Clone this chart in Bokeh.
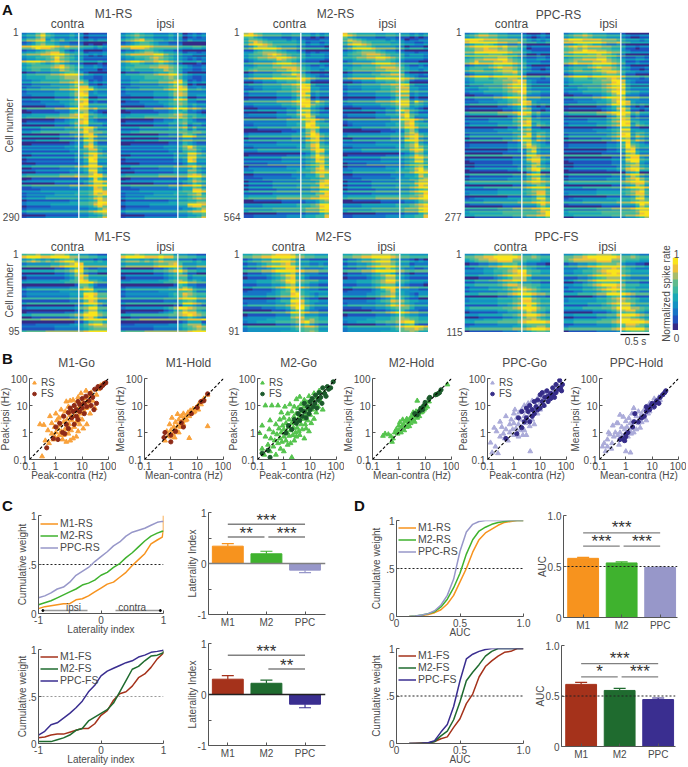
from bokeh.plotting import figure
from bokeh.embed import file_html
from bokeh.resources import INLINE
from bokeh.core.properties import value
from bokeh.layouts import column
from bokeh.models import Range1d, LinearColorMapper, Span, FixedTicker, Legend, LegendItem
import numpy as np
import math

FONT = "Liberation Sans"
TXT = "#4a4a4a"
PAL = ["#352A87","#1F52BE","#1675C6","#1392C2","#19A8B6","#3DB8A0","#5FBB8E","#A8BD6C","#EDC23C","#F9E41C"]

# ---------- heat maps, one string per row of cells, 0 (low) to 9 (high) ----------
m1rs_contra = """344685433343312222
466783545344323233
345786654433312112
556877654544322121
344567886434412223
455566787543321212
233445686543311111
678765676544322232
345555678654422321
456655668765333312
233444556787532111
455556667888533223
223344445567641212
334444555568773323
122233334456886322
233333344457983433
112222233346982233
222233334456892322
111112222345984444
233333344466994533
223333334467895432
344445556677984544
011111122345894322
122222233346784443
222233333445698533
334455555566797665
111111112234489533
111222223334479544
001111111123368422
222222222334379644
333333333344568854
112222222223358954
011111111112249833
222333333333459944
223333334445569964
111222222233348943
344444445556557985
012222222222335964
222222233333346997
223333333344445986
111122222222334886
233333344445556989
344445555555556897
122222222233445698
011111222222334686
344444444444445579
233333333333445678
122223333333445568""".split()
m1rs_ipsi = """345654433343412323
456785544343313222
345677654433301111
557776544444322332
344567765443312212
456666677543322111
233445676543321212
567765567654322231
344555667765432112
456555566876533223
233344456687532111
445556666787643223
223344445567841212
334444445568862322
122233333456872232
233333344457873333
112222233346762233
122233334456763322
111112222345653433
233333344456674543
223333334456764432
344445555566764544
011111122334564322
122222233344563443
222233333344563533
334455555555665665
111111112233476533
111222223333455444
001111111122354322
222222222333469644
333333333344467754
112222222223448854
011111111112238733
222233333333346644
223333334445556854
111222222223336643
344444445555557875
012222222222335764
222222233333345765
223333333344455764
111122222222344886
233333344445556785
344445555555556787
122222222233445566
011111222222337886
344444444444455679
233333333333445667
122223333333445568""".split()
m2rs_contra = """786544443344332323
577654444343322233
468765444443312212
346887654443322221
335677765443312122
345567876544423332
234556687654322221
345555678765433322
334555667776432232
456555566787543323
234444556687532212
345555666778754322
223344455667862111
233344445567983222
112233334456883322
233333344456973433
122222233346982322
333333344457994643
112222223345895432
222333333446885432
011111122335784322
222222233345797333
333333333444689543
112222222334598544
222333333344589744
011111112223479633
233333333344469854
122222222233358943
333333344444468954
112222222223357954
222333333333446984
011111111222346975
222222223333345985
333334444444456896
122222222333345795
223333333334445787
112222222233344686
333344444445556678
122222333333444589
011111222223334487
233333344444445578
222222333333444679
344444455555556688
112222223333344578
222233333334445689
333333444444455579
122222233333344468
112222222333344558""".split()
m2rs_ipsi = """865444433443332323
687654444343312233
467765444433322112
346776544443312221
345677765443322122
345567776544423332
334556677654322221
345555677765433322
334455567776532232
345555566777543323
234444556677632212
345555566777754322
223344455667762111
233344445566873222
122233334456773322
233333344456773433
122222233346772322
233333344457883643
112222223345773432
222233333446875432
011111122334684322
122222233344796333
233333333344689543
012222222334578544
222233333344579644
111111112223368633
233333333344467854
112222222233368943
333333344444467954
112222222223356864
222233333333446874
011111111222345875
222222223333345885
233334444444456786
122222222333345785
223333333334445797
112222222233344586
333344444445556689
122222333333444688
011111222223334587
233333344444445678
222222333333445679
344444455555556679
112222223333344578
222233333334445678
333333444444455579
122222233333344468
112222222333344558""".split()
pprs_contra = """456776655444321232
788766655554421212
567787655445322112
678898878665412222
557788877655321111
667778887665422321
456677788654322332
568666778765422211
345556787765531112
566655678875432212
345555667786422222
456665677887533323
234444556678732111
233344445677832222
333445556788943333
122233334567843322
223333445678844433
111222233456873222
233333344567864343
011111112234762212
344444455568874533
122222222346773433
222223333356784433
122222233345783543
111111222335673322
333333344455674554
122222222234683543
233333334456884654
011111111223685432
122222222334687544
111111111223368433
222222223333478544
011111111122368843
223333333344568954
112222222223358754
011111111223468944
233333333344468854
122222222333357854
344444444444567765
111122222233456875
222222233333456775
233333344444456885
012222222333445885
333344444445556786
122222223333444686
222222233344445587
344444445555555679
223333333344455668""".split()
pprs_ipsi = """456676555444321122
677766665554322212
556787665445321111
678787776655422122
567798877655321111
667778898765422221
456677788654322332
567666778765411211
345556787765431112
456655678876432212
345555667887533222
456665677898533323
234444556689732111
233344445689832222
333445556789843333
122233334579943322
223333445689844433
111222233468973222
233333344579964343
011111112347962212
344444455679974533
122222222458983433
222223333467984433
122222233456983543
111111222345883322
333333344456884554
122222222345893543
233333334456894654
011111111223595432
122222222334597544
111111111223489433
222222223333489644
011111111122379943
223333333344578954
112222222223468854
011111111223378944
233333333344469854
122222222333367964
344444444444567885
111122222233456985
222222233333456785
233333344444456885
012222222333445895
333344444445556787
122222223333444697
222222233344445688
344444445555555689
223333333344455679""".split()
m1fs_contra = """677866788755443322
567656567886444343
233333445679844444
111111122357932233
222222233458943322
122222222346974444
233333334456985543
111111111223886433
233333333344687333
344444445555678644
122222222233489755
222222222233479844
233333333334578954
122222222223569855
011111111223479965
112222222234489743
444455555555577887
000111111123357886
222222233333456777
233334444444457899""".split()
m1fs_ipsi = """677876667664443322
566656567666444343
344444456678533344
111111122356632233
222222233456753322
122222222345663444
223333334456764543
111111111223764433
233333333344686433
344444445555778644
122222222234576544
222222222333567644
233333333334477654
122222222346897655
011111112346798865
112222222233456543
344455555555556667
000111111122346663
222222233333456787
233334444444445799""".split()
m2fs_contra = """445566788875544333
345566889975443333
233456778975443343
111223456884322223
233344567895544433
122223456895532222
111222345785544422
333444556896654433
112222345695543322
011111234586433333
222223345589543233
111112234489743322
233333344589854333
111122233479953222
222222333468854433
122222233367744433
333334444456767544
011222233345675433
344444444456677644
233333334444567644""".split()
m2fs_ipsi = """445566777765443333
344566789965443232
233445678875442333
111223455754322112
233344567764432333
122223456885432222
111222345895432222
333444567885543332
112222346895443322
011111233574322222
222223345674432133
111112234576643322
233333344576654333
111122233456664222
222222333456754433
122222233345654433
333334444456776544
011222233445678433
344444444456788987
233333334444667644""".split()
ppfs_contra = """445566788876445433
345667788866544433
233445567786544332
223344566787654333
222233445678854433
111222345688853333
223334456688644433
334444456776554433
122223334567765433
233333344567876544
111222233456775443
233333344456886544
222222233456797544
344444445567898654
233333344556798654
111222223345688654
222233334445667654
112222233334566665
344444444455567886
233333334445567887""".split()
ppfs_ipsi = """445567788876445433
567777788866544433
344556678889544332
333445678898654333
223344567898543333
222334567888543333
123445678887544433
223345678887644433
122233456787544333
223344456787654433
111222344678654333
233333344567765433
222223334567885444
333344445568886654
222222333457788654
112222233446887654
223333334456897764
112222233345688765
344444444456688775
233333344445678887""".split()
# row-by-row brightness of the cells (4 = unchanged), shared by contra and ipsi of one group
m1rs_rows = "353462375246354624534263346254734526345372254634526345372634534263745246253463452734635243564236324"
m2rs_rows = "462354637245364263546253742635463524736425364273546235463724536424635273546342536472635463254637244"
pprs_rows = "253647253462735462536427354625364273546153642735462536472635463527364253640625364273546253642735462"
m1fs_rows = "3625473625347236254736152473625437"
m2fs_rows = "4625364725364273546253642735462534"
ppfs_rows = "3654263547362546372546354263574362"
colorbar_levels = [0,1,2,3,4,5,6,7,8,9]

# ---------- scatter data, (contra, ipsi) in Hz ----------
m1go_rs = [(.3,.13),(.25,2),(.35,1.9),(.4,.5),(.5,1.2),(.55,.4),(.6,4),(.7,.9),(.7,2.2),(.8,.55),(.9,1.6),(.9,.7),(1,5),(1,1),(1.1,2.8),(1.2,.6),(1.2,1.4),(1.3,3.5),(1.4,.8),(1.5,1.9),(1.6,7),(1.6,1.1),(1.8,4),(1.8,.55),(2,.8),(2,2.5),(2.2,1.3),(2.3,6),(2.5,.45),(2.5,14),(2.7,3),(2.8,1.6),(3,9),(3,.9),(3.2,2),(3.5,15),(3.5,4.5),(3.5,.5),(3.8,1.2),(4,7),(4,2.8),(4.5,16),(4.5,.6),(5,10),(5,4),(5,1.6),(6,6),(6,.7),(6,2.5),(6.5,14),(7,20),(7,4),(7,1.1),(8,9),(8,2),(9,5),(9,28),(10,12),(10,3),(11,1.4),(12,18),(12,6),(14,35),(14,8),(15,13),(15,2),(18,22),(18,9),(20,5),(22,30),(25,15),(30,8),(35,25),(40,40),(50,55),(60,60)]
m1go_fs = [(.45,.27),(.8,.6),(1,1.6),(1.2,.55),(1.4,2.2),(1.8,1),(2,4),(2.2,.9),(2.5,2),(3,5.5),(3,1.4),(3.5,8),(4,3.5),(4.5,6),(5,2),(5,10),(6,4),(6,7),(7,14),(7,3),(8,6),(8,11),(10,8),(10,18),(12,5),(12,12),(14,22),(15,9),(18,15),(20,28),(22,10),(25,20),(28,7),(30,40),(35,12),(40,50),(50,45),(60,55),(70,65),(80,70)]
m1h_rs = [(.6,.5),(.7,1.1),(.8,.75),(.9,2),(1,.7),(1,1.2),(1.1,3.5),(1.2,.9),(1.3,1.6),(1.4,.65),(1.5,2.4),(1.6,1.2),(1.8,4.8),(1.8,1.7),(2,1),(2,3),(2.2,2),(2.4,1.6),(2.5,4),(2.8,2.6),(3,2),(3,5),(3.2,3.4),(3.5,2.8),(4,4.2),(4,3),(4.5,5.5),(5,4),(5,.62),(5.5,6.5),(6,5),(7,7.5),(7,5.5),(8,6),(9,8),(10,9),(11,7),(12,12),(14,11),(15,14),(18,18),(25,1.7),(25,25)]
m1h_fs = [(.55,.65),(.6,1),(1,.45),(1,.8),(1.5,1.1),(2.5,2.3),(3,1.6),(6,5),(10,8.5),(14,14),(18,15),(25,27)]
m2go_rs = [(.12,.95),(.15,.25),(.15,1.8),(.18,.15),(.2,10),(.2,.7),(.25,.35),(.28,1.3),(.3,.2),(.3,2.8),(.32,.6),(.35,10),(.4,.3),(.4,1),(.45,.5),(.5,2),(.5,.15),(.55,.85),(.6,10),(.6,.4),(.65,1.4),(.7,.6),(.7,3),(.75,.25),(.8,1),(.8,5.5),(.85,.45),(.9,1.8),(1,.7),(1,3.5),(1,.2),(1,1.3),(1.1,9),(1.2,.5),(1.2,2.2),(1.3,1),(1.4,5),(1.4,.35),(1.5,1.6),(1.6,.75),(1.6,3),(1.7,11),(1.8,1.2),(1.8,.4),(2,2.2),(2,6),(2,.12),(2.2,.8),(2.3,1.5),(2.4,3.8),(2.5,.5),(2.5,9),(2.7,2.2),(2.8,1),(3,5),(3,.7),(3,17),(3.2,1.5),(3.5,2.7),(3.5,8),(3.7,1.1),(4,4),(4,21),(4,.8),(4.5,2),(4.5,11),(5,6),(5,1.3),(5.5,3.2),(6,9),(6,.6),(6,16),(6.5,2),(7,4.5),(7,1.4),(7.5,13),(8,7),(8,2.8),(9,22),(9,1.1),(10,10),(10,4.5),(11,2.2),(12,16),(12,7),(14,28),(14,3.2),(15,11),(17,5.5),(18,20),(20,9),(22,35),(25,14),(30,7),(35,30)]
m2go_fs = [(.15,.17),(.25,.22),(.3,.12),(1.2,.95),(1.5,1.8),(2,1.3),(2.5,3),(3,2.2),(3.5,5),(4,2.8),(4.5,7),(5,4),(6,6),(6,12),(7,3.5),(8,9),(9,5),(10,14),(10,7),(12,18),(13,9),(15,12),(16,24),(18,8),(20,16),(22,30),(25,20),(28,12),(30,45),(35,28),(40,22),(45,50),(50,40),(60,45),(75,75)]
m2h_rs = [(.25,.75),(.3,.9),(.4,.85),(.5,.72),(.55,.45),(.6,.6),(.7,1),(.8,1.3),(.9,.9),(1,1.2),(1,1.8),(1.1,2.4),(1.2,1),(1.3,1.6),(1.4,3),(1.5,2),(1.6,1.2),(1.8,2.6),(2,1.6),(2,3.2),(2.2,2.2),(2.5,3),(2.5,1.7),(2.8,2.2),(3,4),(3,2.8),(3.5,3),(3.5,5.5),(4,4),(4,2.5),(4.5,6),(5,3.5),(5,15),(5.5,5),(6,7),(6,4),(7,5.5),(8,9),(8,6),(9,7),(10,11),(10,8),(12,9),(14,14),(25,25),(70,60)]
m2h_fs = [(4,5),(5,4.5),(6,6),(7,8),(8,7),(9,10),(10,13),(14,18),(15,20),(25,25),(30,27),(35,30),(40,38)]
ppcgo_rs = [(.13,.42),(.15,.18),(.18,1.5),(.2,.3),(.22,1.1),(.25,.17),(.3,2.5),(.3,.7),(.35,1.6),(.4,.9),(.45,.6),(.5,1.3),(.5,4),(.6,.5),(.7,2),(.7,1),(.8,3),(.9,1.3),(1,.8),(1,5),(1,2.2),(1.1,7),(1.2,1.4),(1.3,3.5),(1.5,.7),(1.5,2),(1.6,5.5),(1.7,1.2),(1.8,3),(2,7),(2,1.6),(2.2,.8),(2.5,4),(2.5,1.2),(2.5,10),(2.8,2.2),(3,6),(3,.8),(3.5,3),(3.5,12),(4,4.5),(4,1.7),(4.2,.2),(4.5,8),(5,3),(5,15),(6,6),(6,2),(7,10),(8,5),(8,18),(10,12),(10,7),(12,20),(14,10),(15,30),(18,16),(20,25),(25,20),(30,35),(40,40),(50,50)]
ppcgo_fs = [(.5,.6),(1.3,.9),(1.5,3.5),(2,1.5),(2,6),(2.5,2.5),(3,3.5),(3,8),(3.5,6),(4,2.5),(4,10),(5,7),(5,4),(6,5),(6,14),(7,9),(8,7),(8,16),(10,8),(10,25),(12,14),(12,30),(14,10),(15,20),(18,35),(20,14),(20,22),(25,28),(25,18),(30,45),(30,25),(35,20),(40,30),(40,60),(50,40),(55,85),(60,45),(65,35),(70,60)]
ppch_rs = [(.13,.3),(.15,.4),(.17,.2),(.2,.55),(.2,.3),(.22,1),(.25,.85),(.28,.25),(.3,.4),(.32,1.8),(.35,.7),(.4,1),(.45,2.2),(.5,.8),(.5,2.2),(.55,.35),(.6,1),(.6,4.5),(.7,.7),(.7,1.6),(.8,3.8),(.9,.5),(.9,1.3),(1,.2),(1,.9),(1,2.6),(1.1,1.6),(1.2,.7),(1.3,3.4),(1.4,1.2),(1.5,.18),(1.5,2.2),(1.6,.9),(1.7,5),(1.8,1.5),(2,8),(2,1),(2.2,2.5),(2.5,4),(2.5,1.3),(3,2.2),(3,6),(3.5,1.5),(3.5,3.5),(4,5),(4,2.4),(5,7),(5,3.5),(6,2.8),(6,9),(7,5),(8,12),(8,6),(10,8),(12,18),(12,10),(15,12),(18,20),(20,16),(25,25)]
ppch_fs = [(.6,.55),(.7,.6),(.9,.5),(1,.7),(1,.85),(1.2,1),(1.8,1.6),(2,2.5),(2.2,5),(3,2.5),(4,3.5),(5,4),(6,6),(6,9),(7,8),(8,7),(9,10),(10,12),(12,9),(14,13),(15,15),(18,12),(20,20),(25,25),(30,30),(33,35)]

# ---------- cumulative curves ----------
li_x = [-1,-.9,-.8,-.7,-.6,-.5,-.4,-.3,-.2,-.1,0,.1,.2,.3,.4,.5,.6,.7,.8,.9,.98,1,1]
m1rs_li = [.05,.07,.08,.09,.10,.10,.14,.15,.18,.22,.26,.30,.32,.37,.42,.49,.55,.61,.71,.75,.78,.85,1]
m2rs_li = [.09,.11,.13,.16,.19,.22,.25,.29,.31,.34,.39,.42,.47,.51,.57,.62,.68,.74,.79,.82,.84,.84,.84]
pprs_li = [.16,.18,.21,.25,.27,.32,.39,.43,.47,.53,.58,.63,.69,.73,.79,.83,.85,.87,.90,.93,.94,.94,.94]
m1fs_li = [.06,.07,.09,.10,.10,.12,.14,.16,.16,.21,.30,.35,.46,.53,.55,.61,.70,.74,.81,.90,.95,.96,.98]
m2fs_li = [.02,.02,.02,.04,.06,.09,.14,.16,.24,.28,.32,.36,.43,.55,.67,.79,.82,.88,.93,.94,.96,.97,.99]
ppfs_li = [.09,.13,.20,.22,.27,.32,.38,.45,.55,.62,.72,.77,.80,.83,.86,.88,.92,.94,.97,.98,.99,1,1]
auc_x = [.1,.15,.2,.25,.3,.35,.4,.45,.5,.55,.6,.65,.7,.75,.8,.85,.9,.95,1]
m1rs_auc = [0,.002,.01,.02,.04,.07,.13,.22,.36,.50,.67,.80,.87,.91,.95,.98,.99,1,1]
m2rs_auc = [0,.005,.015,.03,.05,.10,.18,.30,.45,.65,.80,.89,.93,.96,.98,.99,1,1,1]
pprs_auc = [0,.005,.015,.03,.06,.12,.22,.39,.68,.88,.96,.99,1,1,1,1,1,1,1]
m1fs_auc = [0,.002,.004,.005,.02,.05,.07,.17,.26,.42,.52,.70,.81,.87,.92,.96,.97,1,1]
m2fs_auc = [0,0,.003,.005,.02,.08,.13,.25,.44,.66,.75,.83,.92,.97,1,1,1,1,1]
ppfs_auc = [0,0,.003,.008,.03,.12,.20,.39,.66,.89,.94,.97,.99,1,1,1,1,1,1]

# ---------- bars ----------
regions = ["M1","M2","PPC"]
li_rs = [.34,.19,-.13]; li_rs_err = [.05,.05,.05]
li_fs = [.30,.22,-.19]; li_fs_err = [.07,.06,.07]
auc_rs = [.58,.535,.49]; auc_rs_err = [.01,.01,.005]
auc_fs = [.615,.555,.465]; auc_fs_err = [.02,.02,.015]
RS_COL = ["#F7931E","#3FB22E","#9797C9"]
FS_COL = ["#A5321B","#1F6B2F","#3A2E90"]

figs = []

def place(p, x, y):
    p.styles = {"position": "absolute", "left": f"{x}px", "top": f"{y}px"}
    figs.append(p)

def base(w, h, xr, yr, **kw):
    p = figure(width=w, height=h, x_range=xr, y_range=yr, toolbar_location=None, output_backend="svg", frame_align=False, **kw)
    p.outline_line_color = None
    p.background_fill_color = None
    p.border_fill_color = None
    p.xgrid.visible = False
    p.ygrid.visible = False
    return p

def heat(rows, brightness, x, y, h):
    n = len(brightness)
    coarse = [[int(c) for c in r[:18].ljust(18, "3")] for r in rows]
    arr = np.array([[float(min(9, max(0, v + int(b) - 4))) for v in coarse[i*len(rows)//n]] for i, b in enumerate(brightness)])[::-1]
    p = base(86, h, Range1d(-1, .5), Range1d(0, n), x_axis_location=None, y_axis_location=None, min_border=0)
    p.image(image=[arr], x=-1, y=0, dw=1.5, dh=n, color_mapper=LinearColorMapper(palette=PAL, low=-.5, high=9.5))
    p.add_layout(Span(location=0, dimension="height", line_color="white", line_width=1.3))
    place(p, x, y)

for rows, br, x in [(m1rs_contra,m1rs_rows,21),(m1rs_ipsi,m1rs_rows,120),(m2rs_contra,m2rs_rows,243),(m2rs_ipsi,m2rs_rows,342),(pprs_contra,pprs_rows,464),(pprs_ipsi,pprs_rows,563)]:
    heat(rows, br, x, 32, 186)
for rows, br, x in [(m1fs_contra,m1fs_rows,21),(m1fs_ipsi,m1fs_rows,120),(m2fs_contra,m2fs_rows,242),(m2fs_ipsi,m2fs_rows,342),(ppfs_contra,ppfs_rows,464),(ppfs_ipsi,ppfs_rows,563)]:
    heat(rows, br, x, 253, 79)

# colour bar
cb = base(6, 73, Range1d(0, 1), Range1d(-.5, 9.5), x_axis_location=None, y_axis_location=None, min_border=0)
cb.image(image=[np.array(colorbar_levels, dtype=float).reshape(10, 1)], x=0, y=-.5, dw=1, dh=10,
         color_mapper=LinearColorMapper(palette=PAL, low=-.5, high=9.5))
place(cb, 672, 257)

L, R, T, B = 42, 8, 16, 36

def style_axis(ax, size="10px"):
    ax.axis_line_color = "#555555"
    ax.major_tick_line_color = "#555555"
    ax.major_tick_in = 3
    ax.major_tick_out = 0
    ax.minor_tick_line_color = None
    ax.major_label_text_font = FONT
    ax.major_label_text_font_size = size
    ax.major_label_text_color = TXT
    ax.major_label_standoff = 2
    ax.axis_label_text_font = FONT
    ax.axis_label_text_font_size = size
    ax.axis_label_text_font_style = "normal"
    ax.axis_label_text_color = TXT
    ax.axis_label_standoff = -3

LOGT = [.1, 1, 10, 100]
LOGL = {.1: "0.1", 1: "1", 10: "10", 100: "100"}

def scatter_panel(x, y, rs, fs, rs_c, fs_c, xl, yl, legend):
    p = base(L+79+R, T+81+B, Range1d(.1, 100), Range1d(.1, 100), x_axis_type="log", y_axis_type="log",
             min_border_left=L, min_border_right=R, min_border_top=T, min_border_bottom=B)
    for ax in (p.xaxis[0], p.yaxis[0]):
        style_axis(ax)
        ax.ticker = FixedTicker(ticks=LOGT)
        ax.major_label_overrides = LOGL
    p.xaxis[0].axis_label = xl
    p.yaxis[0].axis_label = yl
    r1 = p.scatter([a for a, b in rs], [b for a, b in rs], marker="triangle", size=4.8, fill_color=rs_c, line_color=rs_c)
    r2 = p.scatter([a for a, b in fs], [b for a, b in fs], marker="circle", size=4.2, fill_color=fs_c, line_color=fs_c)
    p.line(LOGT, LOGT, line_color="black", line_dash="3 2", line_width=1.1)
    if legend:
        lg = Legend(items=[LegendItem(label="RS", renderers=[r1]), LegendItem(label="FS", renderers=[r2])],
                    location=(0, 60), background_fill_alpha=0, border_line_color=None, padding=0, margin=0,
                    spacing=0, glyph_width=10, glyph_height=9, label_height=9, label_standoff=2,
                    label_text_line_height=0.85,
                    label_text_font=FONT, label_text_font_size="10px", label_text_color=TXT)
        p.add_layout(lg, "center")
    place(p, x-L, y-T)

PK, MN = ("Peak-contra (Hz)", "Peak-ipsi (Hz)"), ("Mean-contra (Hz)", "Mean-ipsi (Hz)")
scatter_panel(29, 378, m1go_rs, m1go_fs, "#F9A23C", "#8E2A17", *PK, True)
scatter_panel(144, 378, m1h_rs, m1h_fs, "#F9A23C", "#8E2A17", *MN, False)
scatter_panel(257, 378, m2go_rs, m2go_fs, "#55C44E", "#1B5A2B", *PK, True)
scatter_panel(372, 378, m2h_rs, m2h_fs, "#55C44E", "#1B5A2B", *MN, False)
scatter_panel(487, 378, ppcgo_rs, ppcgo_fs, "#ABABD9", "#352C88", *PK, True)
scatter_panel(599, 378, ppch_rs, ppch_fs, "#ABABD9", "#352C88", *MN, False)

def curve_panel(x, ytop, w, h, xs, curves, names, cols, xr, xticks, xlabels, xlab, dash_col, legend_y, extra=False, ylab_standoff=-3):
    p = base(L+w+R, T+h+B, Range1d(*xr), Range1d(0, 1), min_border_left=L, min_border_right=R, min_border_top=T, min_border_bottom=B)
    for ax in (p.xaxis[0], p.yaxis[0]):
        style_axis(ax)
    p.yaxis[0].axis_label_standoff = ylab_standoff
    p.xaxis[0].ticker = FixedTicker(ticks=xticks)
    p.xaxis[0].major_label_overrides = dict(zip(xticks, xlabels))
    p.yaxis[0].ticker = FixedTicker(ticks=[0, .5, 1])
    p.yaxis[0].major_label_overrides = {0: "0", .5: ".5", 1: "1"}
    p.xaxis[0].axis_label = xlab
    p.yaxis[0].axis_label = "Cumulative weight"
    p.line(list(xr), [.5, .5], line_color=dash_col, line_dash="2 2", line_width=1)
    items = []
    for c, n, col in zip(curves, names, cols):
        r = p.line(xs, c, line_color=col, line_width=1.5)
        items.append(LegendItem(label=n, renderers=[r]))
    if extra:
        p.segment([-.92, .232], [.03, .03], [-.216, .95], [.03, .03], line_color="#999999", line_width=1.5)
        p.scatter([-.93, .95], [.03, .03], marker="circle", size=2, color="black")
        p.text([-.44, .5], [.065, .065], text=["ipsi", "contra"], text_font=value(FONT), text_font_size="10px",
               text_color=TXT, text_align="center", text_baseline="middle")
    lg = Legend(items=items[::1], location=(2, legend_y), background_fill_alpha=0, border_line_color=None, padding=0, margin=0,
                spacing=0, glyph_width=18, glyph_height=9, label_height=9, label_standoff=2,
                label_text_line_height=0.9,
                label_text_font=FONT, label_text_font_size="10.5px", label_text_color=TXT)
    p.add_layout(lg, "center")
    place(p, x-L, ytop-T)

NR, NF = ["M1-RS","M2-RS","PPC-RS"], ["M1-FS","M2-FS","PPC-FS"]
curve_panel(38, 515, 125, 98, li_x, [m1rs_li,m2rs_li,pprs_li], NR, RS_COL, (-1,1), [-1,0,1], ["-1","0","1"], "Laterality index", "#222222", 60, True)
curve_panel(38, 649, 125, 94, li_x, [m1fs_li,m2fs_li,ppfs_li], NF, FS_COL, (-1,1), [-1,0,1], ["-1","0","1"], "Laterality index", "#999999", 57)
curve_panel(396, 520, 127, 96, auc_x, [m1rs_auc,m2rs_auc,pprs_auc], NR, RS_COL, (0,1), [0,.5,1], ["0","0.5","1.0"], "AUC", "#222222", 59, False, 1)
curve_panel(396, 648, 127, 95, auc_x, [m1fs_auc,m2fs_auc,ppfs_auc], NF, FS_COL, (0,1), [0,.5,1], ["0","0.5","1.0"], "AUC", "#222222", 58, False, 1)

def bar_panel(x, ytop, w, h, vals, errs, cols, yr, yticks, ylabels, ylab, xr, sig, zero=None, half=False):
    p = base(L+w+R, T+h+B, Range1d(*xr), Range1d(*yr), min_border_left=L, min_border_right=R, min_border_top=T, min_border_bottom=B)
    for ax in (p.xaxis[0], p.yaxis[0]):
        style_axis(ax)
    p.xaxis[0].ticker = FixedTicker(ticks=[1, 2, 3])
    p.xaxis[0].major_label_overrides = dict(zip([1, 2, 3], regions))
    p.yaxis[0].ticker = FixedTicker(ticks=yticks)
    p.yaxis[0].major_label_overrides = dict(zip(yticks, ylabels))
    p.yaxis[0].axis_label = ylab
    xs = [1, 2, 3]
    ends = [v + (e if v >= 0 else -e) for v, e in zip(vals, errs)]
    p.segment(xs, vals, xs, ends, line_color=cols, line_width=1.2)
    p.scatter(xs, ends, marker="dash", size=12, line_color=cols, line_width=1.2)
    p.vbar(x=xs, top=vals, bottom=[yr[0] if yr[0] == 0 else 0]*3, width=.8, fill_color=cols, line_color=cols)
    if zero:
        p.add_layout(Span(location=0, dimension="width", line_color=zero, line_width=1.5))
    if half:
        p.line(list(xr), [.5, .5], line_color="#222222", line_dash="2 2", line_width=1)
    for x0, x1, yl, yt, s in sig:
        p.segment([x0], [yl], [x1], [yl], line_color="#808080", line_width=1.3)
        p.text([(x0+x1)/2], [yt], text=[s], text_font=value(FONT), text_font_size="17px", text_color="#333333",
               text_align="center", text_baseline="middle")
    place(p, x-L, ytop-T)

LT = [-1, -.5, 0, .5, 1]; LL = ["-1", "", "0", "", "1"]
bar_panel(208, 512, 117, 102, li_rs, li_rs_err, RS_COL, (-1,1), LT, LL, "Laterality Index", (.5,3.53),
          [(1,3,.77,.84,"***"),(1,1.95,.52,.59,"**"),(2.05,3,.52,.59,"***")], "#808080")
bar_panel(208, 643, 117, 102, li_fs, li_fs_err, FS_COL, (-1,1), LT, LL, "Laterality Index", (.5,3.53),
          [(1,3,.77,.84,"***"),(2.05,3,.5,.57,"**")], "#222222")
bar_panel(563, 515, 114, 102, auc_rs, auc_rs_err, RS_COL, (0,1), [0,.5,1], ["0","0.5","1.0"], "AUC", (.49,3.45),
          [(1,3,.83,.88,"***"),(1,1.95,.70,.75,"***"),(2.05,3,.70,.75,"***")], None, True)
bar_panel(561, 645, 114, 101, auc_fs, auc_fs_err, FS_COL, (0,1), [0,.5,1], ["0","0.5","1.0"], "AUC", (.49,3.45),
          [(1,3,.82,.87,"***"),(1,1.95,.69,.74,"*"),(2.05,3,.69,.74,"***")], None, True)

# ---------- page-level texts ----------
ov = base(688, 767, Range1d(0, 688), Range1d(767, 0), x_axis_location=None, y_axis_location=None, min_border=0)

def label(items, size, align="center", angle=0, bold=False, color=TXT):
    ov.text([i[1] for i in items], [i[2] for i in items], text=[i[0] for i in items], text_font=value(FONT),
            text_font_size=size, text_align=align, text_baseline="middle", text_color=color, angle=angle,
            text_font_style="bold" if bold else "normal")

label([("A",7,9),("B",7,358),("C",7,505),("D",359,505)], "15px", bold=True, color="#111111")
label([("M1-RS",113,13),("M2-RS",335,13),("PPC-RS",558,14),("M1-FS",112,236),("M2-FS",333,236),("PPC-FS",556,236),
       ("contra",67,23),("ipsi",165,23),("contra",289,23),("ipsi",387,23),("contra",511,23),("ipsi",608,23),
       ("contra",67,246),("ipsi",165,246),("contra",288,246),("ipsi",386,246),("contra",510,246),("ipsi",607,246),
       ("M1-Go",76,362),("M1-Hold",188,362),("M2-Go",298,362),("M2-Hold",411,362),("PPC-Go",524,362),("PPC-Hold",636,362)], "12px")
label([("1",18,31),("290",19,216),("1",239,31),("564",240,216),("1",461,31),("277",461,216),
       ("1",18,253),("95",19,330),("1",239,253),("91",239,330),("1",461,253),("115",462,331)], "10px", align="right")
label([("Cell number",9,125),("Cell number",9,290),("Normalized spike rate",666,293)], "10px", angle=math.pi/2)
label([("1",676,253),("0",676,337),("0.5 s",635,341)], "10px")
ov.line([620, 649], [334, 334], line_color="black", line_width=1.3)
place(ov, 0, 0)

root = column(*figs, width=688, height=767, styles={"position": "absolute", "left": "0px", "top": "0px"})
open("out.html", "w").write(file_html(root, INLINE))
